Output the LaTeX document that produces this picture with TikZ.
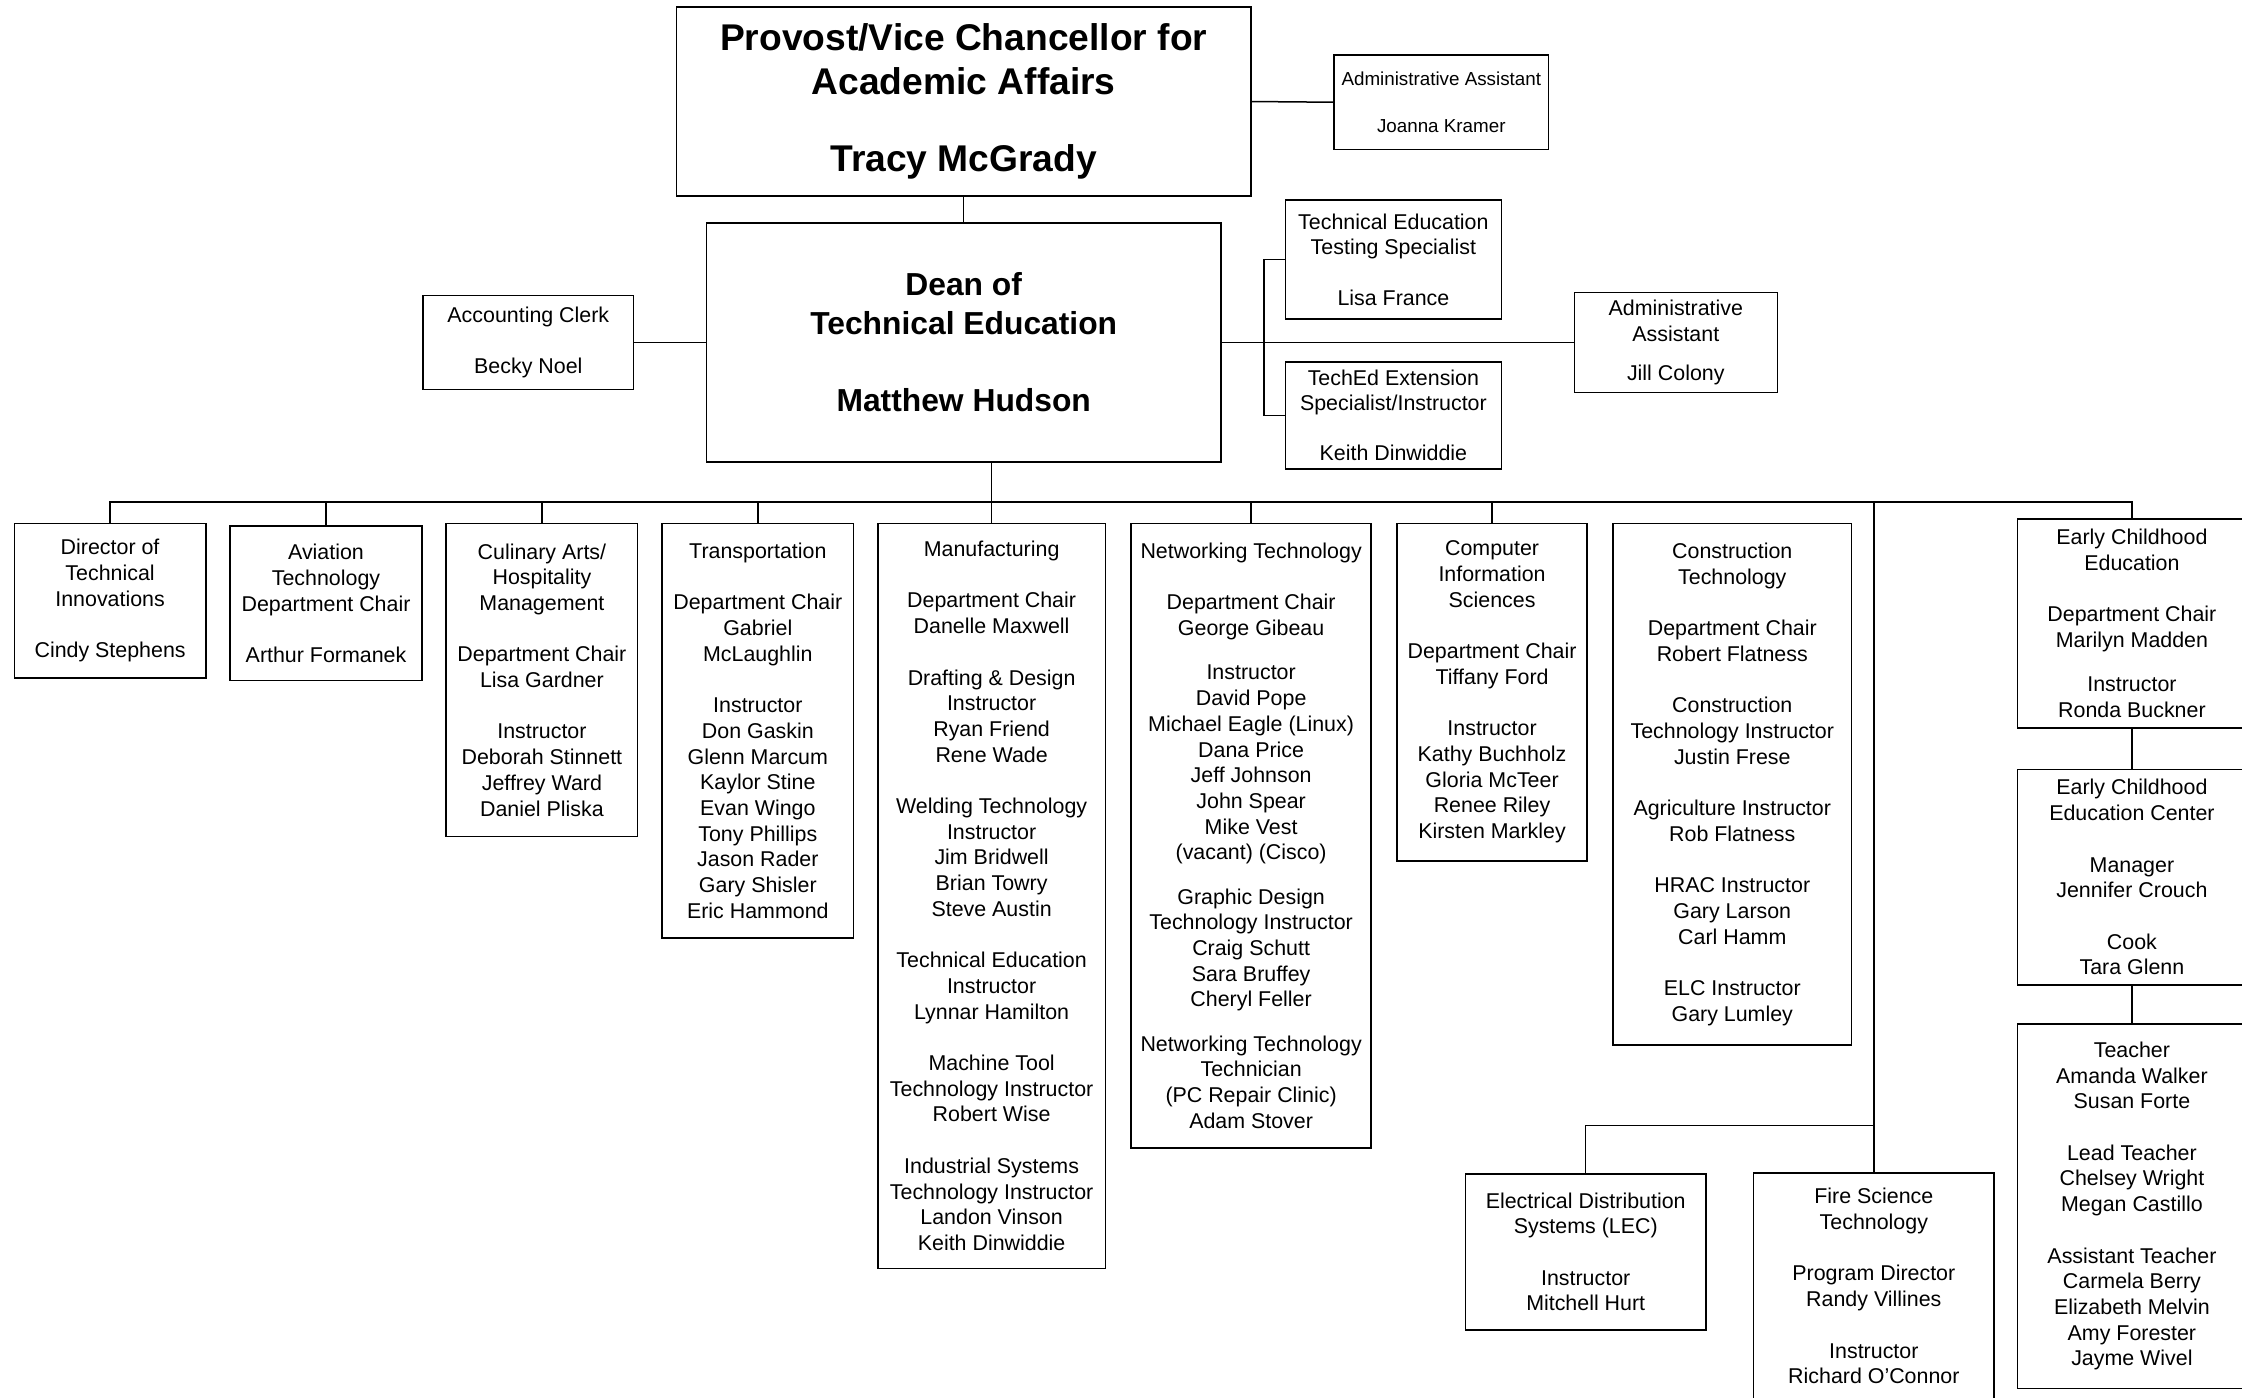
\documentclass[tikz,border=0pt]{standalone}
\usepackage{fontspec}
\setmainfont{Liberation Sans}
\newcommand{\pu}{0.7149pt}
\newcommand{\gap}{\\[12.85pt]}
\newcommand{\sgap}{\\[9.3pt]}

\begin{document}
\begin{tikzpicture}[x=0.7149pt, y=-0.7149pt, line width=0.75pt,
    box/.style 2 args={draw, align=center, inner sep=0pt,
        minimum width=#1*\pu, minimum height=#2*\pu,
        font=\fontsize{10.7}{12.85}\selectfont},
    openbox/.style 2 args={box={#1}{#2}, draw=none}]
    \useasboundingbox (0,0) rectangle (1568,977.7);

    % Top of the chart
    \node[box={402}{132}, font=\fontsize{18.6}{22.2}\selectfont\bfseries] (prov) at (674,71)
        {Provost/Vice Chancellor for\\Academic Affairs\\[16.4pt]Tracy McGrady};
    \node[box={150}{66}, font=\fontsize{9.4}{11.3}\selectfont] (joanna) at (1008,71.5)
        {Administrative Assistant\\[12.3pt]Joanna Kramer};
    \node[box={360}{167}, font=\fontsize{15.9}{19.3}\selectfont\bfseries] (dean) at (674,239.5)
        {Dean of\\Technical Education\\[19.3pt]Matthew Hudson};
    \node[box={147}{66}] (acct) at (369.5,239.5) {Accounting Clerk\gap Becky Noel};
    \node[box={151}{83}] (tes) at (974.5,181.5)
        {Technical Education\\Testing Specialist\\[12.2pt]Lisa France};
    \node[box={151}{75}] (ext) at (974.5,290.5)
        {TechEd Extension\\Specialist/Instructor\\[12.2pt]Keith Dinwiddie};
    \node[box={142}{70}] (jill) at (1172,239.5)
        {Administrative\\Assistant\\[6.4pt]Jill Colony};

    % Departments
    \node[box={134}{108}] (dir) at (77,420)
        {Director of\\Technical\\Innovations\gap Cindy Stephens};
    \node[box={134}{108}] (avi) at (228,422)
        {Aviation\\Technology\\Department Chair\gap Arthur Formanek};
    \node[box={134}{219}] (cul) at (379,475.5)
        {Culinary Arts/\\Hospitality\\Management\gap Department Chair\\Lisa Gardner\gap
         Instructor\\Deborah Stinnett\\Jeffrey Ward\\Daniel Pliska};
    \node[box={134}{290}] (trn) at (530,511)
        {Transportation\gap Department Chair\\Gabriel\\McLaughlin\gap
         Instructor\\Don Gaskin\\Glenn Marcum\\Kaylor Stine\\Evan Wingo\\Tony Phillips\\
         Jason Rader\\Gary Shisler\\Eric Hammond};
    \node[box={159}{521}] (mfg) at (693.5,626.5)
        {Manufacturing\gap Department Chair\\Danelle Maxwell\gap
         Drafting \& Design\\Instructor\\Ryan Friend\\Rene Wade\gap
         Welding Technology\\Instructor\\Jim Bridwell\\Brian Towry\\Steve Austin\gap
         Technical Education\\Instructor\\Lynnar Hamilton\gap
         Machine Tool\\Technology Instructor\\Robert Wise\gap
         Industrial Systems\\Technology Instructor\\Landon Vinson\\Keith Dinwiddie};
    \node[box={168}{437}] (net) at (875,584.5)
        {Networking Technology\gap Department Chair\\George Gibeau\sgap
         Instructor\\David Pope\\Michael Eagle (Linux)\\Dana Price\\Jeff Johnson\\
         John Spear\\Mike Vest\\(vacant) (Cisco)\sgap
         Graphic Design\\Technology Instructor\\Craig Schutt\\Sara Bruffey\\Cheryl Feller\sgap
         Networking Technology\\Technician\\(PC Repair Clinic)\\Adam Stover};
    \node[box={133}{236}] (cis) at (1043.5,484)
        {Computer\\Information\\Sciences\gap Department Chair\\Tiffany Ford\gap
         Instructor\\Kathy Buchholz\\Gloria McTeer\\Renee Riley\\Kirsten Markley};
    \node[box={167}{365}] (con) at (1211.5,548.5)
        {Construction\\Technology\gap Department Chair\\Robert Flatness\gap
         Construction\\Technology Instructor\\Justin Frese\gap
         Agriculture Instructor\\Rob Flatness\gap
         HRAC Instructor\\Gary Larson\\Carl Hamm\gap
         ELC Instructor\\Gary Lumley};
    \node[box={168}{109}] (elec) at (1109,875.5)
        {Electrical Distribution\\Systems (LEC)\gap Instructor\\Mitchell Hurt};
    \node[openbox={167}{157}] (fsci) at (1310.5,899.5)
        {Fire Science\\Technology\gap Program Director\\Randy Villines\gap
         Instructor\\Richard O’Connor};
    \draw ([yshift=-12pt]fsci.south west) -- (fsci.north west) -- (fsci.north east)
        -- ([yshift=-12pt]fsci.south east);

    % Early childhood column
    \node[box={160}{146}] (ece) at (1491,436)
        {Early Childhood\\Education\gap Department Chair\\Marilyn Madden\sgap
         Instructor\\Ronda Buckner};
    \node[box={160}{151}] (ecc) at (1491,613.5)
        {Early Childhood\\Education Center\gap Manager\\Jennifer Crouch\gap
         Cook\\Tara Glenn};
    \node[box={160}{255}] (tch) at (1491,843.5)
        {Teacher\\Amanda Walker\\Susan Forte\gap
         Lead Teacher\\Chelsey Wright\\Megan Castillo\gap
         Assistant Teacher\\Carmela Berry\\Elizabeth Melvin\\Amy Forester\\Jayme Wivel};

    % Lines
    \coordinate (brk) at (884,0);
    \coordinate (bus) at (0,351);
    \coordinate (ebar) at (0,787);
    \draw (prov.south) -- (dean.north);
    \draw (prov.east) -- (joanna.west);
    \draw (acct.east) -- (dean.west);
    \draw (dean.east) -- (jill.west);
    \draw (tes.west) -- (tes.west -| brk) -- (ext.west -| brk) -- (ext.west);
    \draw (dir.north) -- (dir.north |- bus) -- (ece.north |- bus) -- (ece.north);
    \draw (dean.south -| mfg.north) -- (mfg.north);
    \draw (avi.north) -- (avi.north |- bus);
    \draw (cul.north) -- (cul.north |- bus);
    \draw (trn.north) -- (trn.north |- bus);
    \draw (net.north) -- (net.north |- bus);
    \draw (cis.north) -- (cis.north |- bus);
    \draw (fsci.north) -- (fsci.north |- bus);
    \draw (elec.north) -- (elec.north |- ebar) -- (fsci.north |- ebar);
    \draw (ece.south) -- (ecc.north);
    \draw (ecc.south) -- (tch.north);
\end{tikzpicture}
\end{document}
